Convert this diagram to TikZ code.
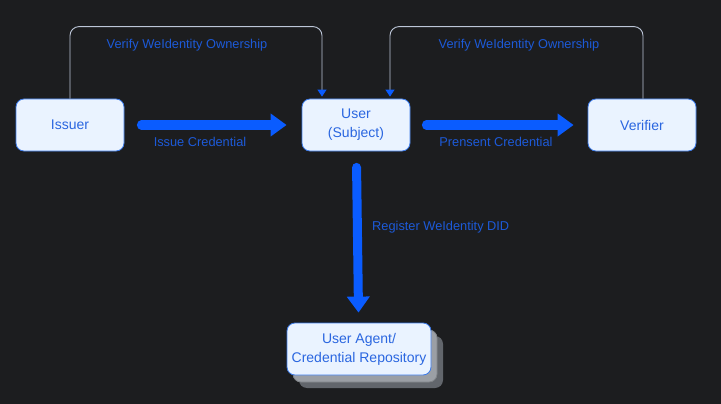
\documentclass[tikz,border=0pt]{standalone}
\usepackage{fontspec}
\setmainfont{Liberation Sans}
\usetikzlibrary{arrows.meta,shapes,positioning,shadows}
\definecolor{bgdark}{HTML}{1C1D1F}
\definecolor{boxfill}{HTML}{EAF3FF}
\definecolor{boxline}{HTML}{3C7BEA}
\definecolor{txtblue}{HTML}{2A66E0}
\definecolor{flowblue}{HTML}{0A5CFF}
\definecolor{lblblue}{HTML}{1D5AD8}
\definecolor{linkgrey}{HTML}{BCC6D8}
\definecolor{shadelight}{HTML}{9B9FA5}
\definecolor{shadedark}{HTML}{62666C}
\tikzset{
  basic/.style  = {draw=boxline, fill=boxfill, rectangle, rounded corners=8pt,
                   line width=0.8pt, align=center, inner sep=0pt,
                   text=txtblue, font=\fontsize{14}{19}\selectfont},
  party/.style  = {basic, minimum width=108pt, minimum height=52pt},
  agent/.style  = {basic, minimum width=144pt, minimum height=52pt,
                   general shadow={shadow xshift=12pt, shadow yshift=-13pt, fill=shadedark},
                   general shadow={shadow xshift=6pt, shadow yshift=-7pt, fill=shadelight, draw=shadedark!80}},
  flow/.style   = {draw=flowblue, line width=9pt, line cap=round,
                   -{Triangle[length=16pt,width=22pt]}},
  link/.style   = {draw=linkgrey, line width=0.9pt, rounded corners=9pt,
                   -{Triangle[length=7pt,width=9pt,color=flowblue]}},
  lbl/.style    = {text=lblblue, font=\fontsize{12.8}{15}\selectfont, inner sep=0pt}
}

\begin{document}
\begin{tikzpicture}[x=1pt,y=-1pt]

\fill[bgdark] (0,0) rectangle (721,404);
\useasboundingbox (0,0) rectangle (721,404);

% the three parties
\node[party] (issuer)   at (70,125)  {Issuer};
\node[party] (user)     at (356,125) {User\\(Subject)};
\node[party] (verifier) at (642,125) {Verifier};
% storage below the user
\node[agent] (agent)    at (359,349) {User Agent/\\Credential Repository};

% thick flows
\draw[flow, shorten <=17pt, shorten >=15pt] (issuer) -- (user);
\draw[flow, shorten <=16pt, shorten >=14pt] (user) -- (verifier);
\draw[flow, shorten <=16pt, shorten >=10pt] (user) -- (agent);

% ownership checks
\draw[link, shorten >=2pt] (issuer.north) -- ++(0,-72) -| ([xshift=-34pt]user.north);
\draw[link, shorten >=2pt] ([xshift=1pt]verifier.north) -- ++(0,-72) -| ([xshift=34pt]user.north);

% labels
\node[lbl] (issuelbl)   at (200,142) {Issue Credential};
\node[lbl] (presentlbl) at (496,142) {Prensent Credential};
\node[lbl] (verifyl)    at (187,45)  {Verify WeIdentity Ownership};
\node[lbl] (verifyr)    at (519,45)  {Verify WeIdentity Ownership};
\node[lbl, anchor=west] (registerlbl) at (372,227) {Register WeIdentity DID};

\end{tikzpicture}
\end{document}
